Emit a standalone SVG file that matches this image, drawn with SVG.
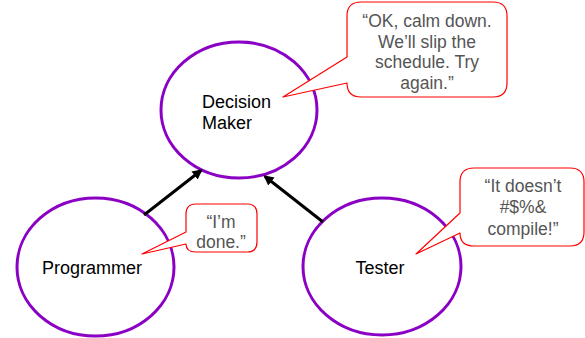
<svg xmlns="http://www.w3.org/2000/svg" width="585" height="338" viewBox="0 0 585 338">
  <style>
    .node { fill: #ffffff; stroke: #8a00c4; stroke-width: 3; }
    .label { font-family: "Liberation Sans", "DejaVu Sans", sans-serif; font-size: 18px; fill: #000000; }
    .bubble { fill: #ffffff; stroke: #ff0000; stroke-width: 1.2; stroke-linejoin: round; }
    .quote { font-family: "Liberation Sans", "DejaVu Sans", sans-serif; font-size: 17.5px; fill: #555555; text-anchor: middle; }
    .edge { stroke: #000000; stroke-width: 3; fill: none; marker-end: url(#head); }
  </style>
  <defs>
    <marker id="head" viewBox="0 0 10 10" refX="8" refY="5" markerWidth="3.4" markerHeight="3.4" orient="auto" markerUnits="strokeWidth">
      <path d="M0,0 L10,5 L0,10 Z" fill="#000000"/>
    </marker>
  </defs>

  <!-- nodes -->
  <g id="decision-maker">
    <ellipse class="node" cx="239" cy="110" rx="78" ry="68"/>
    <text class="label" x="202" y="108">Decision</text>
    <text class="label" x="202" y="129">Maker</text>
  </g>
  <g id="programmer">
    <ellipse class="node" cx="95.5" cy="267" rx="78.5" ry="69"/>
    <text class="label" x="92" y="274" text-anchor="middle">Programmer</text>
  </g>
  <g id="tester">
    <ellipse class="node" cx="382" cy="266.5" rx="79" ry="68.5"/>
    <text class="label" x="380" y="274" text-anchor="middle">Tester</text>
  </g>

  <!-- connectors -->
  <g id="connectors">
    <line class="edge" x1="144" y1="215" x2="201" y2="170.5"/>
    <line class="edge" x1="323" y1="222" x2="265" y2="176.5"/>
  </g>

  <!-- speech bubbles -->
  <g id="bubble-decision-maker">
    <path class="bubble" d="M361,2 H493 Q507,2 507,16 V83 Q507,97 493,97 H361 Q347,97 347,83 L283,97 L347,57 V16 Q347,2 361,2 Z"/>
    <text class="quote" x="427" y="27">“OK, calm down.</text>
    <text class="quote" x="427" y="48">We’ll slip the</text>
    <text class="quote" x="427" y="68">schedule. Try</text>
    <text class="quote" x="427" y="89">again.”</text>
  </g>
  <g id="bubble-programmer">
    <path class="bubble" d="M196,204 H247 Q257,204 257,214 V242 Q257,252 247,252 H196 Q186,252 186,244 L142,254 L186,232 V214 Q186,204 196,204 Z"/>
    <text class="quote" x="221" y="228">“I’m</text>
    <text class="quote" x="221" y="248">done.”</text>
  </g>
  <g id="bubble-tester">
    <path class="bubble" d="M474,168 H570 Q584,168 584,182 V232 Q584,246 570,246 H474 Q460,246 460,233 L416,254 L460,213 V182 Q460,168 474,168 Z"/>
    <text class="quote" x="523" y="192">“It doesn’t</text>
    <text class="quote" x="523" y="213">#$%&amp;</text>
    <text class="quote" x="523" y="235">compile!”</text>
  </g>
</svg>
